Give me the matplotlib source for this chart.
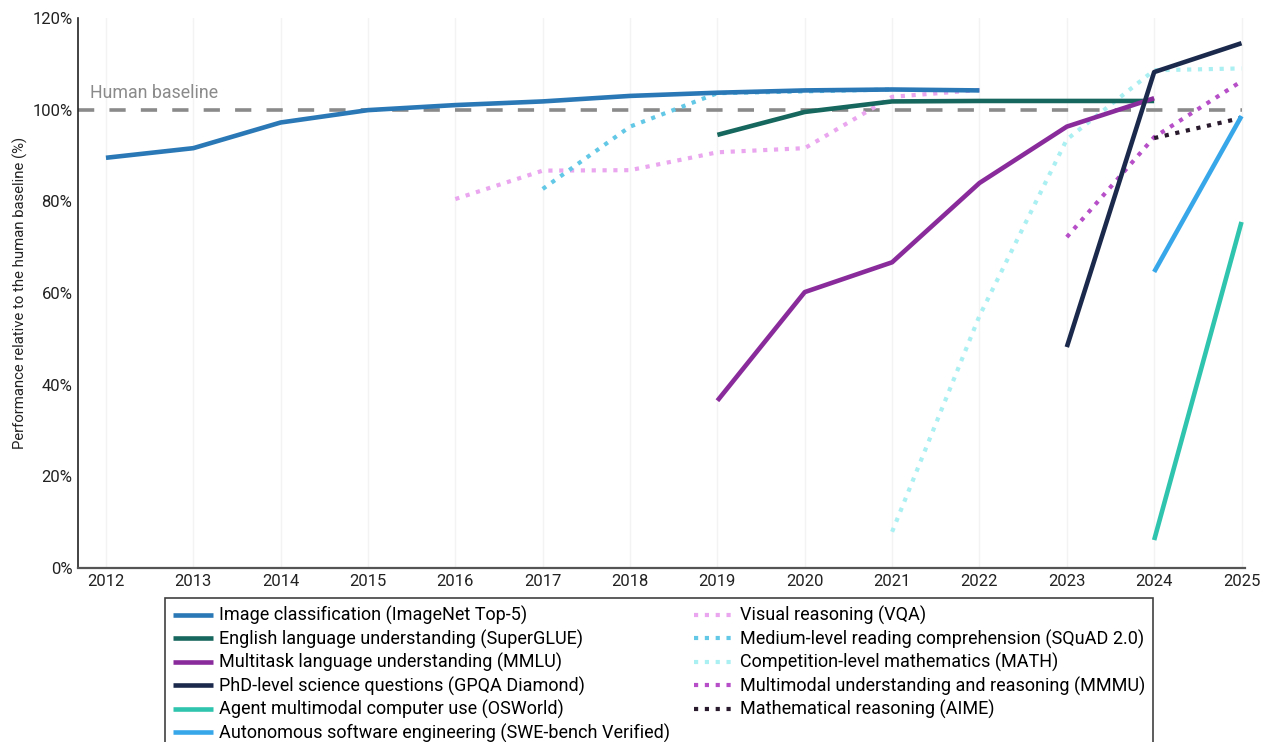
import matplotlib
matplotlib.use("Agg")
import matplotlib.pyplot as plt
from matplotlib.lines import Line2D

plt.rcParams['font.family'] = ['Roboto', 'DejaVu Sans']

# ---- data ----
imagenet_x = [2012, 2013, 2014, 2015, 2016, 2017, 2018, 2019, 2020, 2021, 2022]
imagenet_y = [89.5, 91.6, 97.2, 99.9, 101.0, 101.8, 103.0, 103.7, 104.2, 104.4, 104.2]

superglue_x = [2019, 2020, 2021, 2022, 2023, 2024]
superglue_y = [94.5, 99.5, 101.8, 101.9, 101.9, 101.9]

mmlu_x = [2019, 2020, 2021, 2022, 2023, 2024]
mmlu_y = [36.5, 60.2, 66.7, 84.0, 96.3, 102.5]

gpqa_x = [2023, 2024, 2025]
gpqa_y = [48.2, 108.2, 114.5]

osworld_x = [2024, 2025]
osworld_y = [6.1, 75.5]

swe_x = [2024, 2025]
swe_y = [64.6, 98.6]

vqa_x = [2016, 2017, 2018, 2019, 2020, 2021, 2022]
vqa_y = [80.5, 86.7, 86.8, 90.7, 91.6, 102.8, 104.3]

squad_x = [2017, 2018, 2019, 2020, 2021]
squad_y = [82.7, 96.3, 103.6, 104.0, 104.4]

math_x = [2021, 2022, 2023, 2024, 2025]
math_y = [7.9, 55.0, 93.5, 108.6, 109.0]

mmmu_x = [2023, 2024, 2025]
mmmu_y = [72.2, 94.0, 106.2]

aime_x = [2024, 2025]
aime_y = [93.8, 98.2]

years = list(range(2012, 2026))
yticks = [0, 20, 40, 60, 80, 100, 120]
baseline = 100

solid = [
    ("Image classification (ImageNet Top-5)", imagenet_x, imagenet_y, "#2a78b6"),
    ("English language understanding (SuperGLUE)", superglue_x, superglue_y, "#16675d"),
    ("Multitask language understanding (MMLU)", mmlu_x, mmlu_y, "#8a2b9b"),
    ("PhD-level science questions (GPQA Diamond)", gpqa_x, gpqa_y, "#1b2a4c"),
    ("Agent multimodal computer use (OSWorld)", osworld_x, osworld_y, "#2fc4ae"),
    ("Autonomous software engineering (SWE-bench Verified)", swe_x, swe_y, "#38a7ea"),
]
dotted = [
    ("Visual reasoning (VQA)", vqa_x, vqa_y, "#eaa6ef"),
    ("Medium-level reading comprehension (SQuAD 2.0)", squad_x, squad_y, "#62c8e6"),
    ("Competition-level mathematics (MATH)", math_x, math_y, "#aaeff2"),
    ("Multimodal understanding and reasoning (MMMU)", mmmu_x, mmmu_y, "#b64fc8"),
    ("Mathematical reasoning (AIME)", aime_x, aime_y, "#2a1a2e"),
]

fig = plt.figure(figsize=(12.76, 7.42), dpi=100)
ax = fig.add_axes([78/1276, 1-568/742, (1245-78)/1276, (568-18)/742])

ax.set_xlim(2011.68, 2025.04)
ax.set_ylim(0, 120)

for yr in years:
    ax.axvline(yr, color="#f3f3f3", lw=1.0, zorder=0)

ax.plot([2011.68, 2025.0], [baseline, baseline], color="#8a8a8a", lw=2.6,
        linestyle=(0, (4.5, 4.2)), zorder=1)
ax.text(2011.82, 101.6, "Human baseline", color="#8a8a8a", fontsize=12.8,
        ha="left", va="bottom")

solid_handles = []
dotted_handles = []
for label, xs, ys, c in solid:
    h, = ax.plot(xs, ys, color=c, lw=3.3, solid_capstyle="butt", label=label, zorder=3)
    solid_handles.append(h)
for label, xs, ys, c in dotted:
    h, = ax.plot(xs, ys, color=c, lw=3.0, linestyle=(0, (1, 1.6)), label=label, zorder=2)
    dotted_handles.append(h)

ax.set_xticks(years)
ax.set_xticklabels([str(y) for y in years], fontsize=12, color="#222222")
ax.set_yticks(yticks)
ax.set_yticklabels([f"{v}%" for v in yticks], fontsize=12, color="#222222")
ax.tick_params(length=0, pad=4)
for s in ["top", "right"]:
    ax.spines[s].set_visible(False)
ax.spines["left"].set_color("#222222")
ax.spines["left"].set_linewidth(1.2)
ax.spines["bottom"].set_color("#555555")
ax.spines["bottom"].set_linewidth(1.6)
ax.set_ylabel("Performance relative to the human baseline (%)", fontsize=10.7,
              color="#222222", labelpad=3)

blank = Line2D([], [], color="none")
handles = solid_handles + dotted_handles + [blank]
labels = [h.get_label() for h in solid_handles + dotted_handles] + [""]
leg = fig.legend(handles, labels, loc="upper left",
                 bbox_to_anchor=(165/1276, 1-598/742), borderaxespad=0,
                 ncol=2, fontsize=13,
                 frameon=True, fancybox=False, edgecolor="#111111",
                 handlelength=2.2, handletextpad=0.35, columnspacing=1.3,
                 labelspacing=0.24, borderpad=0.45)
leg.get_frame().set_linewidth(1.2)

fig.savefig("out.png", dpi=100)
